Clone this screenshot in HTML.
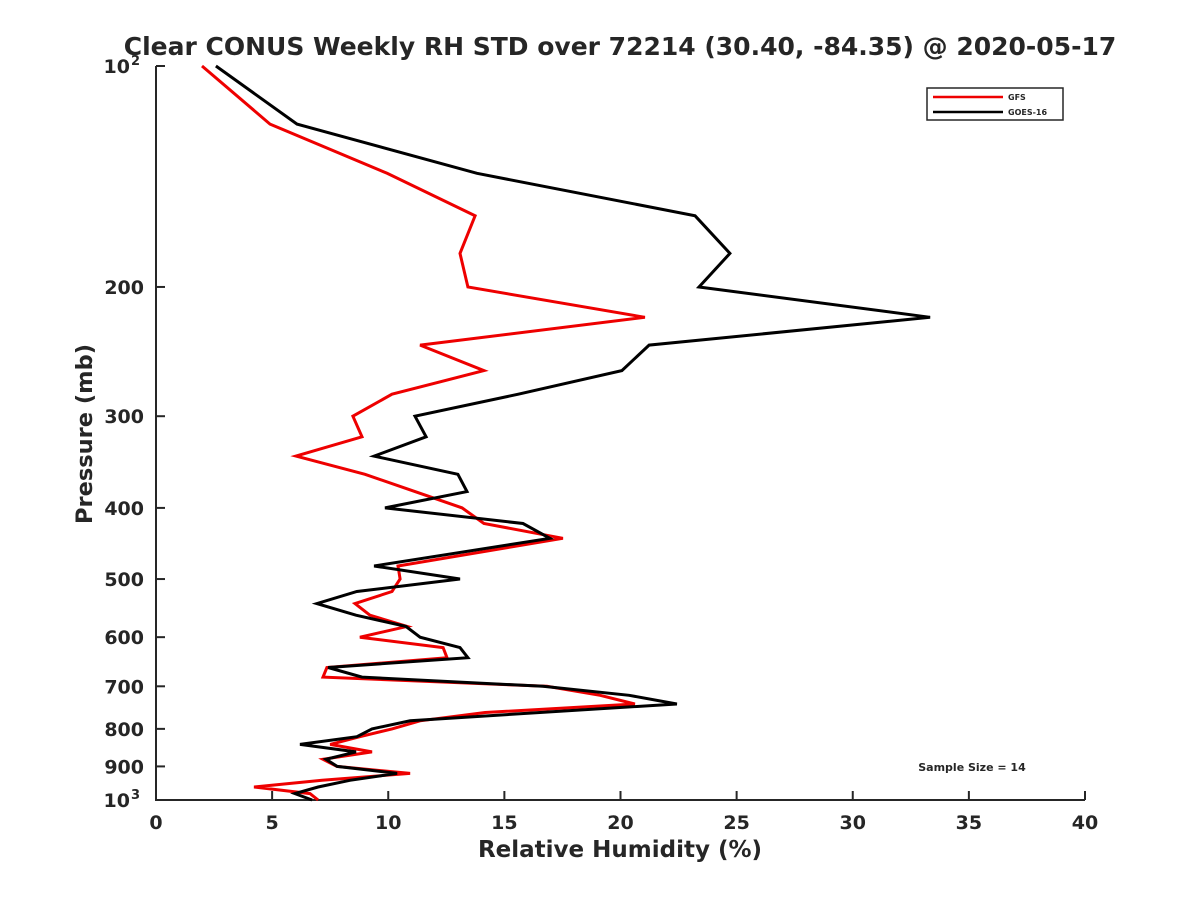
<!DOCTYPE html>
<html><head><meta charset="utf-8"><style>
body{margin:0;background:#fff;}
svg text{font-family:"DejaVu Sans","Liberation Sans",sans-serif;font-weight:bold;fill:#262626;}
</style></head><body>
<svg id="chart" width="1200" height="900" xmlns="http://www.w3.org/2000/svg">
<rect width="1200" height="900" fill="#fff"/>
<text x="620" y="55" font-size="25" text-anchor="middle" fill="#000">Clear CONUS Weekly RH STD over 72214 (30.40, -84.35) @ 2020-05-17</text>
<g id="axes"></g>
<g id="series"></g>
<text x="620" y="857" font-size="23" text-anchor="middle">Relative Humidity (%)</text>
<text transform="translate(92,434) rotate(-90)" font-size="22.5" text-anchor="middle">Pressure (mb)</text>
<text x="972" y="771" font-size="11" text-anchor="middle" fill="#000">Sample Size = 14</text>
<g>
<rect x="927" y="88" width="136" height="32" fill="#fff" stroke="#262626" stroke-width="1.5"/>
<line x1="933" y1="97" x2="1003" y2="97" stroke="#e00" stroke-width="2.5"/>
<text x="1008" y="100" font-size="8" fill="#000">GFS</text>
<line x1="933" y1="112" x2="1003" y2="112" stroke="#000" stroke-width="2.5"/>
<text x="1008" y="115" font-size="8" fill="#000">GOES-16</text>
</g>
</svg>
<script>
const pressures=[100,120,140,160,180,200,220,240,260,280,300,320,340,360,380,400,420,440,480,500,520,540,560,580,600,620,640,660,680,700,720,740,760,780,800,820,840,860,880,900,920,940,960,980,1000];
const goesValues=[2.58,6.07,13.82,23.21,24.71,23.38,33.33,21.23,20.06,15.6,11.15,11.63,9.39,13.00,13.39,9.86,15.80,16.96,9.39,13.09,8.65,6.93,8.61,10.76,11.37,13.09,13.43,7.41,8.87,16.66,20.37,22.43,16.53,10.94,9.30,8.65,6.20,8.61,7.32,7.8,10.38,8.35,6.98,5.98,6.72];
const gfsValues=[1.98,4.91,9.95,13.74,13.09,13.43,21.05,11.37,14.12,10.16,8.48,8.87,6.03,9.00,11.15,13.18,14.12,17.52,10.42,10.51,10.16,8.57,9.21,10.81,8.78,12.36,12.53,7.36,7.19,16.83,19.12,20.62,14.17,11.37,10.16,8.78,7.5,9.30,7.19,7.79,10.94,7.15,4.22,6.63,6.98];
const xTicks=[0,5,10,15,20,25,30,35,40];
const yTicks=[100,200,300,400,500,600,700,800,900,1000];
const yTickLabels=["10^2","200","300","400","500","600","700","800","900","10^3"];
const NS="http://www.w3.org/2000/svg";
const X0=156,X1=1085,Y0=66,Y1=800;
function xs(v){return X0+(v-0)/(40-0)*(X1-X0);}
function ys(p){return Y0+(Math.log10(p)-2)*(Y1-Y0);}
function mk(tag,attrs,parent){const e=document.createElementNS(NS,tag);for(const k in attrs)e.setAttribute(k,attrs[k]);parent.appendChild(e);return e;}
const axes=document.getElementById('axes');
const ax=mk('path',{d:`M${X0},${Y0}V${Y1}H${X1}`,fill:'none',stroke:'#262626','stroke-width':2},axes);


xTicks.forEach(t=>{
  const x=xs(t);
  const l=mk('line',{x1:x,y1:Y1,x2:x,y2:Y1-9,stroke:'#262626','stroke-width':2},axes);
  
  
  const tx=mk('text',{x:x,y:Y1+29,'font-size':19,'text-anchor':'middle'},axes);
  tx.textContent=t;
  
  
});
yTicks.forEach((t,i)=>{
  const y=ys(t);
  const l=mk('line',{x1:X0,y1:y,x2:X0+9,y2:y,stroke:'#262626','stroke-width':2},axes);
  
  
  const lab=yTickLabels[i];
  if(lab.includes('^')){
    const [b,e]=lab.split('^');
    const tx=mk('text',{x:X0-26,y:y+7,'font-size':19,'text-anchor':'end'},axes);
    tx.textContent=b;
    
    
    const sx=mk('text',{x:X0-25,y:y-1,'font-size':13},axes);
    sx.textContent=e;
    
    
  } else {
    const tx=mk('text',{x:X0-12,y:y+7,'font-size':19,'text-anchor':'end'},axes);
    tx.textContent=lab;
    
    
  }
});
const series=document.getElementById('series');
function line(vals,color,name){
  const pts=vals.map((v,i)=>xs(v).toFixed(1)+','+ys(pressures[i]).toFixed(1)).join(' ');
  const pl=mk('polyline',{points:pts,fill:'none',stroke:color,'stroke-width':3,'stroke-linejoin':'miter'},series);
  
  
}
line(gfsValues,'#e00','gfs-line');
line(goesValues,'#000','goes16-line');
</script>
</body></html>
